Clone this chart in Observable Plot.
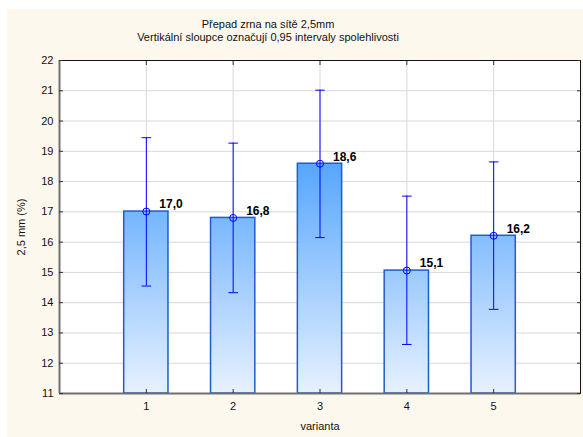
<!DOCTYPE html>
<html><head><meta charset="utf-8">
<script src="https://cdn.jsdelivr.net/npm/d3@7"></script>
<script src="https://cdn.jsdelivr.net/npm/@observablehq/plot@0.6"></script>
<style>
body{margin:0;background:#fff;font-family:"Liberation Sans",Arial,sans-serif}
#wrap{position:relative;width:583px;height:437px;overflow:hidden}
#bg{position:absolute;left:7px;top:9px;right:0;bottom:0;background:#fdf8ee}
#chart{position:absolute;left:0;top:0}
#title{position:absolute;left:0;width:536px;top:18px;text-align:center;font-size:11px;line-height:12.5px;color:#111}
</style></head><body>
<div id="wrap"><div id="bg"></div><div id="chart"></div><div id="title">Přepad zrna na sítě 2,5mm<br>Vertikální sloupce označují 0,95 intervaly spolehlivosti</div></div>
<script>
const variants = [1, 2, 3, 4, 5];
const means = [17.01, 16.80, 18.59, 15.06, 16.21];
const lower = [14.55, 14.33, 16.15, 12.62, 13.78];
const upper = [19.45, 19.27, 21.02, 17.52, 18.65];
const yTicks = [11, 12, 13, 14, 15, 16, 17, 18, 19, 20, 21, 22];
const xTicks = [1, 2, 3, 4, 5];

const data = variants.map((v, i) => ({
  v, mean: means[i], lo: lower[i], hi: upper[i],
  label: means[i].toFixed(1).replace(".", ",")
}));

const halfBar = 0.255, halfCap = 0.055;
const blue = "#0000ff";

const plot = Plot.plot({
  width: 583, height: 437,
  marginLeft: 59, marginRight: 3, marginTop: 60, marginBottom: 44,
  style: {background: "transparent", fontFamily: "'Liberation Sans', Arial, sans-serif", fontSize: "11px", color: "#111"},
  x: {domain: [0, 6]},
  y: {domain: [11, 22]},
  marks: [
    Plot.frame({fill: "white", stroke: null}),
    Plot.gridY(yTicks, {stroke: "#d8d8d8", strokeOpacity: 1}),
    Plot.gridX(xTicks, {stroke: "#d8d8d8", strokeOpacity: 1}),
    Plot.rectY(data, {x1: d => d.v - halfBar, x2: d => d.v + halfBar, y1: 11, y2: "mean", fill: "url(#barGrad)", stroke: "#1f5ccc", strokeWidth: 1.5}),
    Plot.ruleX(data, {x: "v", y1: "lo", y2: "hi", stroke: blue, strokeWidth: 1}),
    Plot.link(data, {x1: d => d.v - halfCap, x2: d => d.v + halfCap, y1: "hi", y2: "hi", stroke: blue, strokeWidth: 1}),
    Plot.link(data, {x1: d => d.v - halfCap, x2: d => d.v + halfCap, y1: "lo", y2: "lo", stroke: blue, strokeWidth: 1}),
    Plot.dot(data, {x: "v", y: "mean", r: 3.5, stroke: blue, fill: "none", strokeWidth: 1}),
    Plot.text(data, {x: "v", y: "mean", text: "label", dx: 13, dy: -7, textAnchor: "start", fontWeight: "bold", fontSize: 12, fill: "#000"}),
    Plot.frame({stroke: "#111", strokeWidth: 1}),
    Plot.ruleX([0], {stroke: "#707070", strokeWidth: 2}),
    Plot.ruleY([11], {stroke: "#707070", strokeWidth: 2}),
    Plot.axisY({ticks: yTicks, tickSize: 0, tickPadding: 6, fontSize: 11, tickFormat: d => String(d), label: "2,5 mm (%)", labelAnchor: "center", labelOffset: 42, labelArrow: "none"}),
    Plot.axisY({ticks: yTicks, anchor: "left", tickSize: -4, tickFormat: () => "", label: null, stroke: "#333"}),
    Plot.axisY({ticks: yTicks, anchor: "right", tickSize: -4, tickFormat: () => "", label: null, stroke: "#333"}),
    Plot.axisX({ticks: xTicks, tickSize: 0, tickPadding: 9, fontSize: 11, tickFormat: d => String(d), label: "varianta", labelAnchor: "center", labelOffset: 36, labelArrow: "none"}),
    Plot.axisX({ticks: xTicks, anchor: "bottom", tickSize: -4, tickFormat: () => "", label: null, stroke: "#333"}),
    Plot.axisX({ticks: xTicks, anchor: "top", tickSize: -4, tickFormat: () => "", label: null, stroke: "#333"})
  ]
});

const y = plot.scale("y");
const svg = d3.select(plot);
const grad = svg.insert("defs", ":first-child").append("linearGradient")
  .attr("id", "barGrad").attr("gradientUnits", "userSpaceOnUse")
  .attr("x1", 0).attr("x2", 0).attr("y1", y.apply(22)).attr("y2", y.apply(11));
grad.append("stop").attr("offset", "0%").attr("stop-color", "rgb(22,132,255)");
grad.append("stop").attr("offset", "100%").attr("stop-color", "rgb(230,241,254)");

document.getElementById("chart").appendChild(plot);
</script>
</body></html>
